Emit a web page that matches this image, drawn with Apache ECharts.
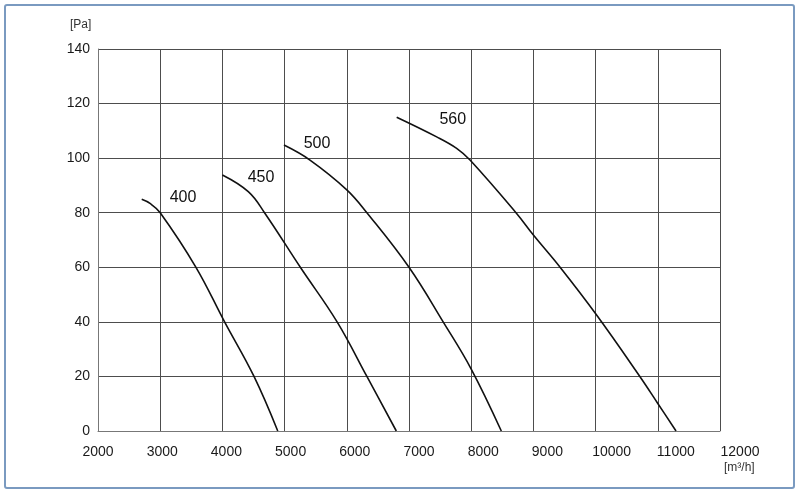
<!DOCTYPE html>
<html>
<head>
<meta charset="utf-8">
<script src="https://cdn.jsdelivr.net/npm/echarts@6/dist/echarts.min.js"></script>
<style>html,body{margin:0;padding:0;background:#fff;}#c{width:800px;height:495px;}</style>
</head>
<body>
<div id="c"></div>
<script>
// Fan curves: airflow [m3/h] vs pressure [Pa]
const curve400 = [[2703,84.9],[2836,83.4],[3000,80],[3575,60],[4035,40],[4508,20],[4890,0]];
const curve450 = [[4000,93.8],[4416,87.7],[4677,80],[5253,60],[5844,40],[6323,20],[6796,0]];
const curve500 = [[4990,104.8],[5408,99.3],[6000,88.4],[6323,80],[7000,60],[7554,39.8],[8000,22.7],[8484,0]];
const curve560 = [[6802,115],[7445,107.8],[7766,103.6],[7981,99.3],[8720,80],[9000,71.8],[9429,60],[10016,42.5],[10714,19.9],[11000,10.1],[11293,0]];
const seriesNames = ['400','450','500','560'];
const labelCoords = [[3367,85.5],[4621,92.7],[5521,105.2],[7703,114.3]];
const xTicks = [2000,3000,4000,5000,6000,7000,8000,9000,10000,11000,12000];
const yTicks = [0,20,40,60,80,100,120,140];
const yUnit = '[Pa]';
const xUnit = '[m³/h]';

const curves = [curve400, curve450, curve500, curve560];
const chart = echarts.init(document.getElementById('c'), null, {renderer:'canvas'});
const font = 'Liberation Sans, Arial, sans-serif';

const series = curves.map((d, i) => ({
  type: 'line',
  name: seriesNames[i],
  xAxisIndex: 0, yAxisIndex: 0,
  data: d,
  smooth: 0.4,
  showSymbol: false,
  symbol: 'none',
  lineStyle: {color: '#111', width: 1.6},
  silent: true,
  markPoint: {
    symbol: 'circle', symbolSize: 0,
    label: {show: true, position: 'inside', formatter: seriesNames[i], color: '#111', fontSize: 16, fontFamily: font},
    data: [{coord: labelCoords[i]}]
  }
}));

chart.setOption({
  animation: false,
  backgroundColor: '#fff',
  grid: [
    {left: 98, top: 49, width: 622, height: 382, containLabel: false},
    {left: 98, top: 49, width: 642, height: 382, containLabel: false}
  ],
  xAxis: [
    {type: 'value', gridIndex: 0, min: xTicks[0], max: xTicks[xTicks.length-1], interval: 1000,
     axisLine: {show: true, lineStyle: {color: '#777', width: 1}},
     axisTick: {show: false}, axisLabel: {show: false},
     splitLine: {show: true, lineStyle: {color: '#4d4d4d', width: 1}}},
    {type: 'value', gridIndex: 1, min: xTicks[0], max: xTicks[xTicks.length-1], interval: 1000,
     axisLine: {show: false}, axisTick: {show: false}, splitLine: {show: false},
     axisLabel: {show: true, margin: 14, color: '#1a1a1a', fontSize: 14, fontFamily: font,
                 formatter: v => String(v)}}
  ],
  yAxis: [
    {type: 'value', gridIndex: 0, min: yTicks[0], max: yTicks[yTicks.length-1], interval: 20,
     axisLine: {show: true, lineStyle: {color: '#777', width: 1}},
     axisTick: {show: false},
     axisLabel: {show: true, margin: 8, color: '#1a1a1a', fontSize: 14, fontFamily: font},
     splitLine: {show: true, lineStyle: {color: '#4d4d4d', width: 1}}},
    {type: 'value', gridIndex: 1, min: 0, max: 140, show: false}
  ],
  graphic: [
    {type: 'rect', shape: {x: 5, y: 5, width: 789, height: 483, r: 2}, style: {fill: 'none', stroke: '#7a9ac0', lineWidth: 2}, silent: true},
    {type: 'text', left: 70, top: 19, style: {text: yUnit, fontSize: 12, fontFamily: font, fill: '#333'}},
    {type: 'text', left: 724, top: 462, style: {text: xUnit, fontSize: 12, fontFamily: font, fill: '#333'}}
  ],
  series: series
});
</script>
</body>
</html>
